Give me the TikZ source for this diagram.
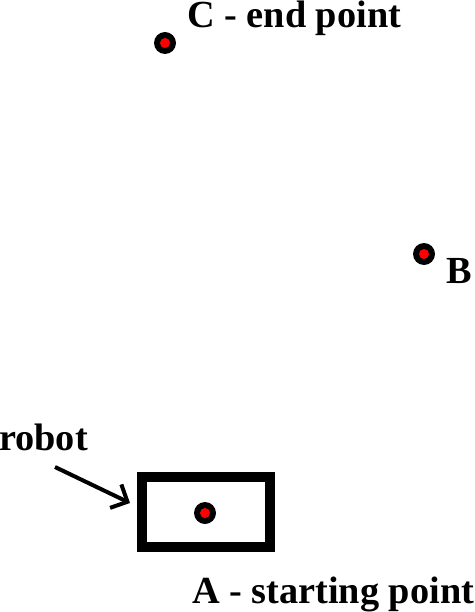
\documentclass[tikz,border=0pt]{standalone}
\usepackage{fontspec}
\setmainfont{Liberation Serif}
\usetikzlibrary{arrows.meta}
\begin{document}
\begin{tikzpicture}[x=1pt,y=-1pt,
  lbl/.style={anchor=base west,inner sep=0pt,font=\fontsize{38.3}{40}\selectfont\bfseries},
  dotouter/.style={circle,fill=black,minimum size=22pt,inner sep=0pt},
  dotinner/.style={circle,fill=red,minimum size=10pt,inner sep=0pt}]
\useasboundingbox (0,0) rectangle (474,612);
% points
\node[dotouter] (C) at (165,43) {};
\node[dotinner] at (C) {};
\node[dotouter] (B) at (424,254) {};
\node[dotinner] at (B) {};
% robot body
\node[draw,line width=10pt,minimum width=128pt,minimum height=70pt,inner sep=0pt] (robot) at (206,512) {};
\node[dotouter] (A) at (205,513) {};
\node[dotinner] at (A) {};
% labels
\node[lbl] (Ct) at (187,27.5) {C - end point};
\node[lbl] (Bt) at (446,283) {B};
\node[lbl] (Rt) at (-1,450) {robot};
\node[lbl] (At) at (192,603) {A - starting point};
% arrow
\coordinate (as) at (55,467);
\coordinate (ae) at (130,503);
\draw[line width=4pt,-{Straight Barb[length=13pt,width=26pt]}] (as) -- (ae);
\end{tikzpicture}
\end{document}
